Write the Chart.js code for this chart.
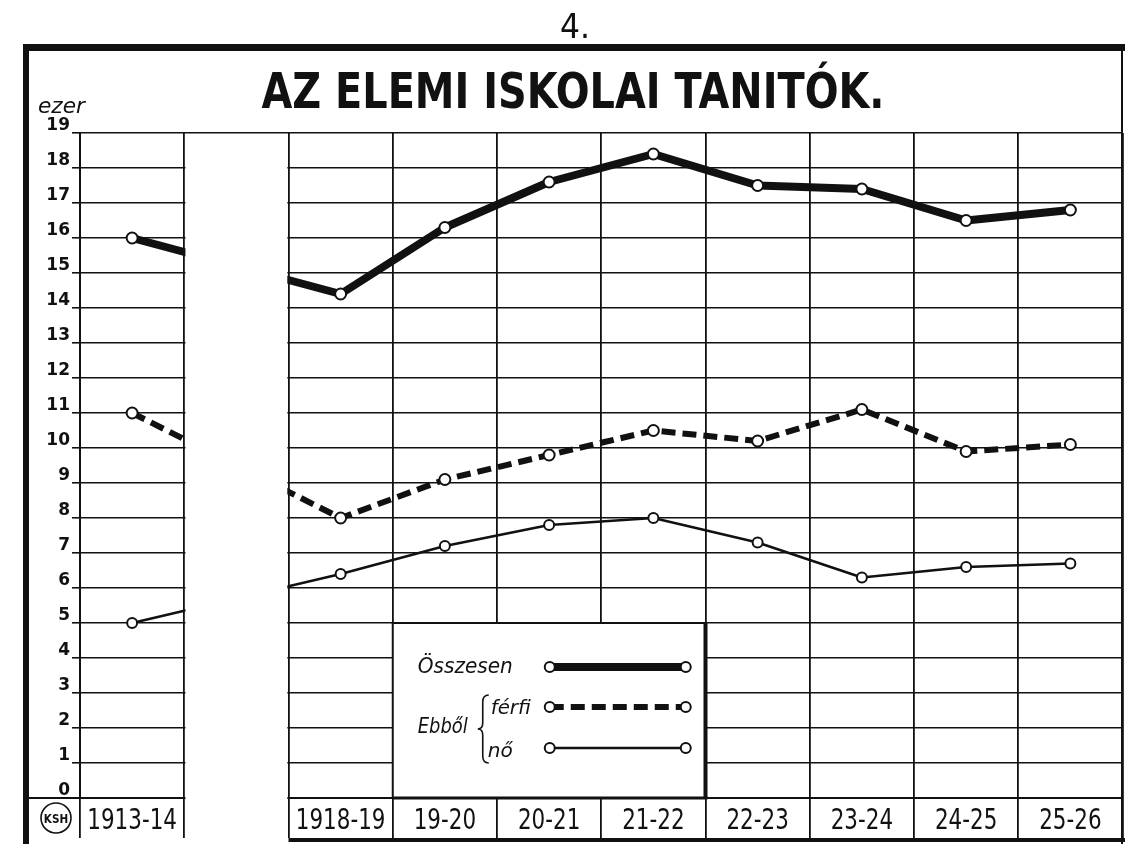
<!DOCTYPE html>
<html lang="hu">
<head>
<meta charset="UTF-8">
<title>Az elemi iskolai tanítók</title>
<script src="https://cdn.jsdelivr.net/npm/chart.js"></script>
<style>
  html, body { margin: 0; padding: 0; background: #fff; overflow: hidden; }
  .lap { position: relative; width: 1125px; height: 844px; overflow: hidden; background: #fff; }
  canvas { position: absolute; left: 0; top: 0; }
</style>
</head>
<body>
<div class="lap">
  <canvas id="grafikon" width="1130" height="844"></canvas>
</div>

<script>
  // tanévek (a második oszlop az 1914-18 közti üres sáv)
  const evek = ['1913-14', '', '1918-19', '19-20', '20-21', '21-22', '22-23', '23-24', '24-25', '25-26'];
  // ezer fő
  const osszesen = [16.0, null, 14.4, 16.3, 17.6, 18.4, 17.5, 17.4, 16.5, 16.8];
  const ferfi    = [11.0, null, 8.0, 9.1, 9.8, 10.5, 10.2, 11.1, 9.9, 10.1];
  const no       = [5.0, null, 6.4, 7.2, 7.8, 8.0, 7.3, 6.3, 6.6, 6.7];
  const jelek = ['Összesen', 'férfi', 'nő'];
  const cim = 'AZ ELEMI ISKOLAI TANITÓK.';

  const TINTA = '#111';

  // keskenyített felirat: vízszintesen összenyomva
  function felirat(ctx, szoveg, x, y, font, sx, igazitas) {
    ctx.save();
    ctx.font = font;
    ctx.textAlign = igazitas || 'left';
    ctx.textBaseline = 'alphabetic';
    ctx.fillStyle = TINTA;
    ctx.translate(x, y);
    ctx.scale(sx, 1);
    ctx.fillText(szoveg, 0, 0);
    ctx.restore();
  }

  function szelessegre(ctx, szoveg, x, y, font, w, igazitas) {
    ctx.save();
    ctx.font = font;
    const sx = w / ctx.measureText(szoveg).width;
    ctx.restore();
    felirat(ctx, szoveg, x, y, font, sx, igazitas);
  }

  function vonal(ctx, x1, y1, x2, y2, w) {
    ctx.lineWidth = w;
    ctx.beginPath();
    ctx.moveTo(x1, y1);
    ctx.lineTo(x2, y2);
    ctx.stroke();
  }

  const keret = {
    id: 'keret',
    afterDatasetsDraw(chart) {
      const { ctx, chartArea: ca, scales: { x, y } } = chart;
      const fel = (x.getPixelForValue(1) - x.getPixelForValue(0)) / 2;
      const H = chart.height;
      ctx.save();

      // üres sáv a háborús évek helyén
      const gx = x.getPixelForValue(1);
      ctx.fillStyle = '#fff';
      ctx.fillRect(gx - fel + 1.2, ca.top + 1.5, 2 * fel - 2.4, H - ca.top);

      // jelmagyarázat doboza
      const L = x.getPixelForValue(3) - fel, R = x.getPixelForValue(5) + fel;
      const T = y.getPixelForValue(5), B = ca.bottom;
      ctx.fillStyle = '#fff';
      ctx.fillRect(L, T, R - L, B - T);
      ctx.strokeStyle = TINTA;
      vonal(ctx, L, B, L, T, 2);
      vonal(ctx, L - 1, T, R, T, 2);
      vonal(ctx, R, T - 1, R, B, 4);
      vonal(ctx, L, B, R + 2, B, 3);

      const minta = (i, yy) => {
        const ds = chart.data.datasets[i];
        const x1 = L + 157, x2 = L + 293;
        ctx.save();
        ctx.strokeStyle = TINTA;
        ctx.setLineDash(ds.borderDash || []);
        vonal(ctx, x1, yy, x2, yy, ds.borderWidth);
        ctx.setLineDash([]);
        [x1, x2].forEach(cx => {
          ctx.beginPath();
          ctx.arc(cx, yy, 5, 0, 2 * Math.PI);
          ctx.fillStyle = '#fff';
          ctx.fill();
          ctx.lineWidth = 2;
          ctx.stroke();
        });
        ctx.restore();
      };
      minta(0, T + 44);
      minta(1, T + 84);
      minta(2, T + 125);

      const dolt = 'italic 22px "DejaVu Sans"';
      szelessegre(ctx, jelek[0], L + 25, T + 50, dolt, 95);
      szelessegre(ctx, 'Ebből', L + 25, T + 110, dolt, 50);
      szelessegre(ctx, jelek[1], L + 98, T + 91, 'italic 20px "DejaVu Sans"', 40);
      szelessegre(ctx, jelek[2], L + 95, T + 134, 'italic 20px "DejaVu Sans"', 25);
      // kapcsos zárójel
      const bx = L + 90, by1 = T + 72, by2 = T + 140, bm = (by1 + by2) / 2;
      ctx.lineWidth = 1.6;
      ctx.beginPath();
      ctx.moveTo(bx + 6, by1);
      ctx.quadraticCurveTo(bx, by1, bx, by1 + 7);
      ctx.lineTo(bx, bm - 6);
      ctx.quadraticCurveTo(bx, bm, bx - 5, bm);
      ctx.quadraticCurveTo(bx, bm, bx, bm + 6);
      ctx.lineTo(bx, by2 - 7);
      ctx.quadraticCurveTo(bx, by2, bx + 6, by2);
      ctx.stroke();

      // tanévek az alsó sorban
      evek.forEach((ev, i) => {
        if (!ev) return;
        felirat(ctx, ev, x.getPixelForValue(i), ca.bottom + 31, '29px "DejaVu Sans"', 0.74, 'center');
      });

      // külső keret
      ctx.strokeStyle = TINTA;
      vonal(ctx, 23, 47.5, 1125, 47.5, 7);
      vonal(ctx, 26, 44, 26, H, 6);
      vonal(ctx, 1122, 44, 1122, H, 2);
      vonal(ctx, 29, ca.bottom, ca.left, ca.bottom, 2);
      vonal(ctx, x.getPixelForValue(2) - fel, H - 4, 1125, H - 4, 4);

      // hivatal jelvénye
      ctx.lineWidth = 1.6;
      ctx.beginPath();
      ctx.arc(56, ca.bottom + 20, 15, 0, 2 * Math.PI);
      ctx.stroke();
      felirat(ctx, 'KSH', 56, ca.bottom + 25, 'bold 13px "DejaVu Sans"', 0.8, 'center');

      // címek
      szelessegre(ctx, cim, 573, 108, 'bold 50px "DejaVu Sans"', 623, 'center');
      szelessegre(ctx, '4.', 575, 38, '34px "DejaVu Sans"', 30, 'center');
      szelessegre(ctx, 'ezer', 38, 113, 'italic 22px "DejaVu Sans"', 47);

      ctx.restore();
    }
  };

  const pont = {
    pointRadius: 5.5,
    pointBorderWidth: 2,
    pointBackgroundColor: '#fff',
    pointBorderColor: TINTA,
    borderColor: TINTA,
    spanGaps: true,
    tension: 0,
    borderJoinStyle: 'round'
  };

  new Chart(document.getElementById('grafikon'), {
    type: 'line',
    data: {
      labels: evek,
      datasets: [
        { label: jelek[0], data: osszesen, borderWidth: 8, ...pont },
        { label: jelek[1], data: ferfi, borderWidth: 6, borderDash: [14, 7], ...pont },
        { label: jelek[2], data: no, borderWidth: 2.5, ...pont, pointRadius: 5 }
      ]
    },
    options: {
      responsive: false,
      animation: false,
      devicePixelRatio: 1,
      layout: { padding: { top: 133, left: 0, right: 0, bottom: 6 } },
      plugins: {
        legend: { display: false },
        tooltip: { enabled: false },
        title: { display: false }
      },
      scales: {
        x: {
          offset: true,
          grid: { offset: true, color: TINTA, lineWidth: 1.8, tickLength: 40 },
          border: { color: TINTA, width: 2 },
          ticks: { display: false }
        },
        y: {
          min: 0,
          max: 19,
          ticks: {
            stepSize: 1,
            color: TINTA,
            padding: 2,
            labelOffset: -7,
            font: { family: 'DejaVu Sans', weight: 'bold', size: 17 }
          },
          grid: { color: TINTA, lineWidth: 1.6, tickLength: 8 },
          border: { color: TINTA, width: 2 },
          afterFit(s) { s.width = 80; }
        }
      }
    },
    plugins: [keret]
  });
</script>
</body>
</html>
